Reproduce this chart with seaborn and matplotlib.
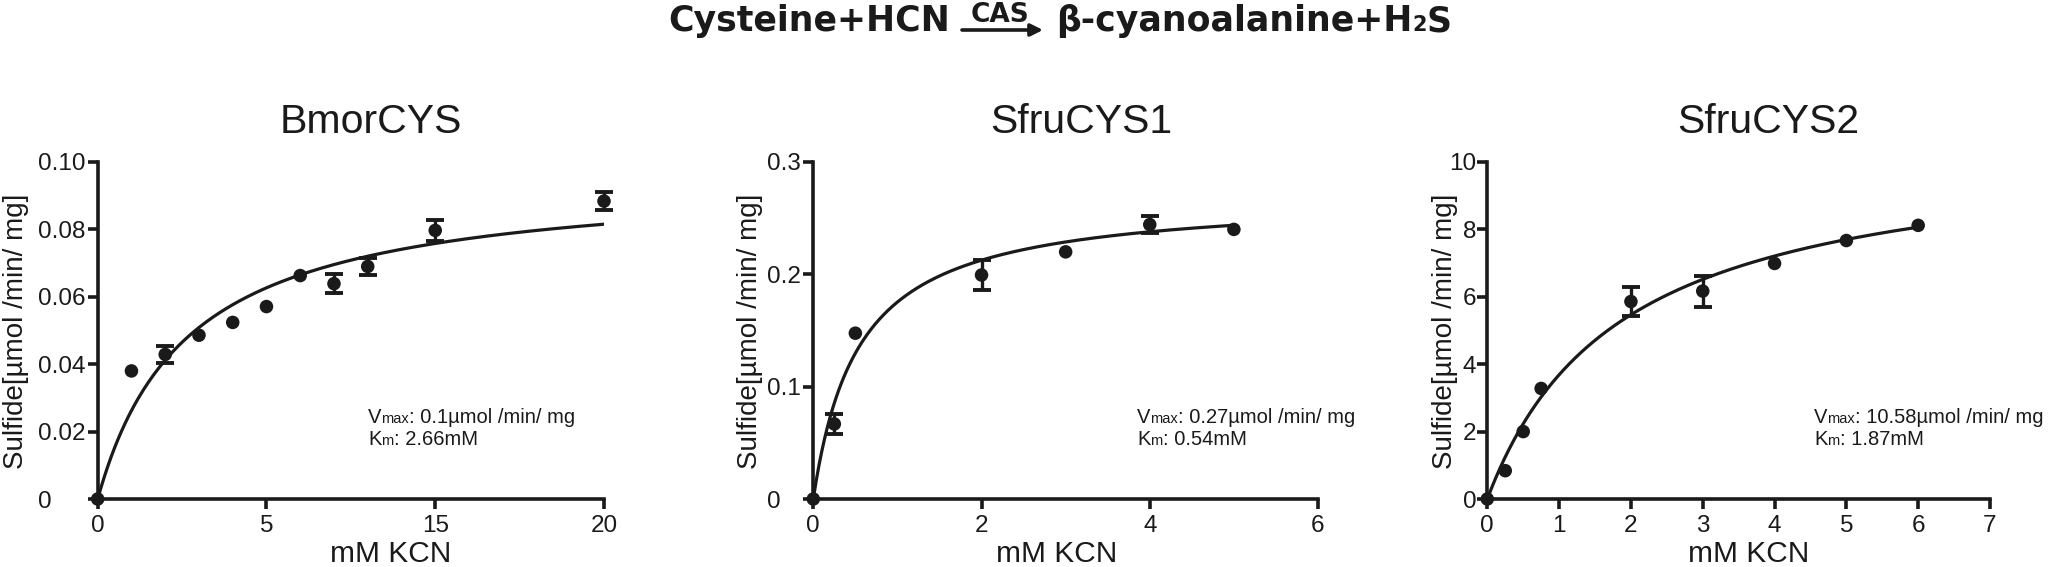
import numpy as np
import pandas as pd
import matplotlib
matplotlib.use("Agg")
import matplotlib.pyplot as plt
from matplotlib.patches import FancyArrowPatch
import seaborn as sns

# ---------------- data ----------------
panel_titles = ["BmorCYS", "SfruCYS1", "SfruCYS2"]

# BmorCYS (x given as plotted axis positions; tick labels below relabel the axis)
x_bmor = [0, 1, 2, 3, 4, 5, 6, 7, 8, 10, 15]
y_bmor = [0, 0.0380, 0.0429, 0.0486, 0.0524, 0.0571, 0.0663, 0.0639, 0.0690, 0.0797, 0.0884]
e_bmor = [0, 0, 0.0024, 0, 0, 0, 0, 0.0029, 0.0024, 0.0030, 0.0026]

x_sf1 = [0, 0.25, 0.5, 2, 3, 4, 5]
y_sf1 = [0, 0.0668, 0.1476, 0.1994, 0.2200, 0.2443, 0.2400]
e_sf1 = [0, 0.0085, 0, 0.0130, 0, 0.0075, 0]

x_sf2 = [0, 0.25, 0.5, 0.75, 2, 3, 4, 5, 6]
y_sf2 = [0, 0.84, 2.00, 3.28, 5.86, 6.17, 6.99, 7.67, 8.12]
e_sf2 = [0, 0, 0, 0, 0.44, 0.46, 0, 0, 0]

# Michaelis-Menten fit parameters (curve) and the printed values
fit_vmax = [0.096, 0.27, 10.58]
fit_km = [2.66, 0.54, 1.87]
vmax_text = ["0.1", "0.27", "10.58"]
km_text = ["2.66", "0.54", "1.87"]
curve_xmax = [15, 5, 6]

xlims = [15, 6, 7]
xticks = [[0, 5, 10, 15], [0, 2, 4, 6], [0, 1, 2, 3, 4, 5, 6, 7]]
xticklabels = [["0", "5", "15", "20"], ["0", "2", "4", "6"],
               ["0", "1", "2", "3", "4", "5", "6", "7"]]
ylims = [0.10, 0.3, 10]
yticks = [[0, 0.02, 0.04, 0.06, 0.08, 0.10], [0, 0.1, 0.2, 0.3], [0, 2, 4, 6, 8, 10]]
yticklabels = [["0", "0.02", "0.04", "0.06", "0.08", "0.10"], ["0", "0.1", "0.2", "0.3"],
               ["0", "2", "4", "6", "8", "10"]]

xs = [x_bmor, x_sf1, x_sf2]
ys = [y_bmor, y_sf1, y_sf2]
es = [e_bmor, e_sf1, e_sf2]

# ---------------- style ----------------
sns.set_theme(style="ticks")
plt.rcParams["font.family"] = ["Liberation Sans", "DejaVu Sans"]
INK = "#1a1a1a"
TITLE_FONT = ["DejaVu Sans"]

W, H = 2049, 567
fig = plt.figure(figsize=(W / 100, H / 100), dpi=100)
fig.patch.set_facecolor("white")
renderer = fig.canvas.get_renderer()

axes_rects = [
    [97.7 / W, 68 / H, 506.3 / W, 337 / H],
    [813.3 / W, 68 / H, 504.7 / W, 337 / H],
    [1487.3 / W, 68 / H, 502.7 / W, 337 / H],
]
title_xfrac = [0.54, 0.531, 0.559]
xlabel_xfrac = [0.579, 0.483, 0.52]
ylabel_xfrac = [-0.147, -0.1116, -0.0702]
ann_xpx = [368, 1137, 1814]
ytick_left_pad = [35.5, 25.8, None]


def text_runs(x_px, y_px, runs):
    """Place consecutive text pieces on one baseline (figure pixel coords from top-left)."""
    x = x_px
    for s, size in runs:
        t = fig.text(x / W, 1 - y_px / H, s, fontsize=size, color=INK,
                     ha="left", va="baseline")
        x += t.get_window_extent(renderer).width


for i in range(3):
    ax = fig.add_axes(axes_rects[i])
    ax.set_facecolor("white")
    df = pd.DataFrame({"x": xs[i], "y": ys[i], "e": es[i]})
    cx = np.linspace(0, curve_xmax[i], 300)
    cy = fit_vmax[i] * cx / (fit_km[i] + cx)
    sns.lineplot(x=cx, y=cy, ax=ax, color=INK, linewidth=2.3, zorder=3)
    eb = df[df["e"] > 0]
    ax.errorbar(eb["x"], eb["y"], yerr=eb["e"], fmt="none", ecolor=INK,
                elinewidth=2.4, capsize=6.5, capthick=2.8, zorder=4, clip_on=False)
    sns.scatterplot(data=df, x="x", y="y", ax=ax, s=95, color=INK,
                    edgecolor="none", zorder=5, clip_on=False)

    ax.set_xlim(0, xlims[i])
    ax.set_ylim(0, ylims[i])
    ax.set_xticks(xticks[i])
    ax.set_xticklabels(xticklabels[i])
    ax.set_yticks(yticks[i])
    ax.set_yticklabels(yticklabels[i])
    sns.despine(ax=ax)
    for s in ["left", "bottom"]:
        ax.spines[s].set_linewidth(2.6)
        ax.spines[s].set_color(INK)
        ax.spines[s].set_capstyle("projecting")
    ax.tick_params(axis="both", direction="out", length=7.5, width=2.6,
                   color=INK, labelcolor=INK, labelsize=17.5)
    ax.tick_params(axis="x", pad=4)
    if ytick_left_pad[i] is not None:
        ax.tick_params(axis="y", pad=ytick_left_pad[i])
        for lbl in ax.get_yticklabels():
            lbl.set_horizontalalignment("left")
    else:
        ax.tick_params(axis="y", pad=0.5)

    ax.set_xlabel("mM KCN", fontsize=21.5, color=INK, va="baseline")
    ax.xaxis.set_label_coords(xlabel_xfrac[i], -0.187)
    ax.set_ylabel("Sulfide[µmol /min/ mg]", fontsize=20, color=INK, va="baseline")
    ax.yaxis.set_label_coords(ylabel_xfrac[i], 0.497)

    ax.text(title_xfrac[i], 1.086, panel_titles[i], transform=ax.transAxes,
            ha="center", va="baseline", fontsize=29.5, color=INK)

    # kinetic constants: small "max"/"m" sitting on the baseline, as in the original
    text_runs(ann_xpx[i], 423, [("V", 14.5), ("max", 10.5),
                                (": " + vmax_text[i] + "µmol /min/ mg", 14.5)])
    text_runs(ann_xpx[i], 445, [("K", 14.5), ("m", 10.5),
                                (": " + km_text[i] + "mM", 14.5)])

# ---------------- reaction title ----------------
yb = 1 - 31 / H
t1 = fig.text(0, yb, "Cysteine+HCN", fontsize=25, fontweight="bold", color=INK,
              family=TITLE_FONT, ha="left", va="baseline")
w1 = t1.get_window_extent(renderer).width
t1.set_x((950 - w1) / W)

arr = FancyArrowPatch((962 / W, 1 - 30 / H), (1043 / W, 1 - 30 / H),
                      transform=fig.transFigure, arrowstyle="-|>", mutation_scale=18,
                      linewidth=2.6, color=INK, shrinkA=0, shrinkB=0)
fig.add_artist(arr)
fig.text(1000 / W, 1 - 22 / H, "CAS", fontsize=19, fontweight="bold", color=INK,
         family=TITLE_FONT, ha="center", va="baseline")

t2 = fig.text(1056 / W, yb, "β-cyanoalanine+H", fontsize=25, fontweight="bold",
              color=INK, family=TITLE_FONT, ha="left", va="baseline")
b2 = t2.get_window_extent(renderer)
t3 = fig.text(b2.x1 / W, yb, "2", fontsize=15, fontweight="bold", color=INK,
              family=TITLE_FONT, ha="left", va="baseline")
b3 = t3.get_window_extent(renderer)
fig.text(b3.x1 / W, yb, "S", fontsize=25, fontweight="bold", color=INK,
         family=TITLE_FONT, ha="left", va="baseline")

fig.savefig("out.png", dpi=100, facecolor="white")
